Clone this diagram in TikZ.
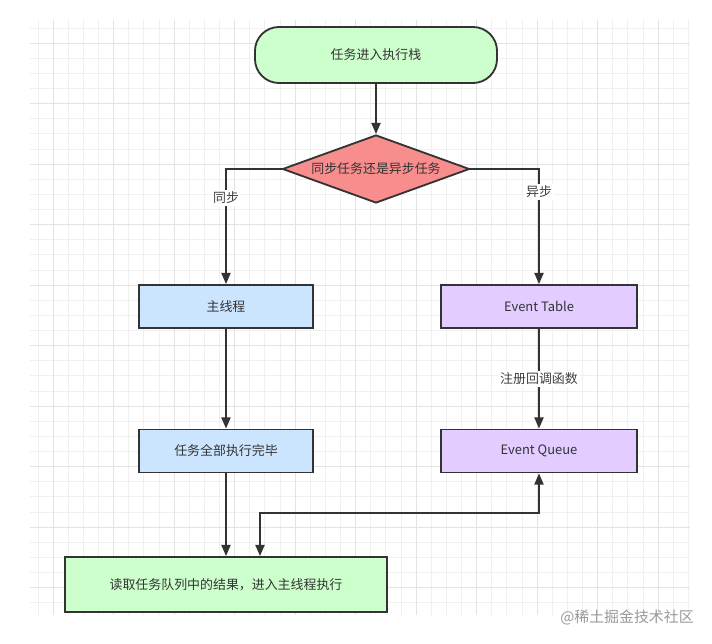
\documentclass[tikz,border=0pt]{standalone}
\usepackage{fontspec}
\setmainfont{Noto Sans CJK SC}
\usepackage{tikz}
\usetikzlibrary{shapes.geometric,arrows.meta}
\definecolor{linegray}{HTML}{333333}
\definecolor{textgray}{HTML}{333333}
\definecolor{taggray}{HTML}{404040}
\definecolor{termgreen}{HTML}{CCFFCC}
\definecolor{choicered}{HTML}{F88D8D}
\definecolor{syncblue}{HTML}{CCE5FF}
\definecolor{asyncpurple}{HTML}{E3CCFF}
\definecolor{gridminor}{HTML}{F0F0F0}
\definecolor{gridmajor}{HTML}{E3E3E3}
\definecolor{wmgray}{HTML}{9A9A9A}

\begin{document}
\begin{tikzpicture}[x=0.025cm, y=-0.025cm, line width=1.3pt, color=linegray,
  >={Triangle[length=8pt, width=6.5pt]},
  main/.style = {draw, text=textgray, inner sep=0pt, font=\fontsize{9.2pt}{11pt}\selectfont},
  term/.style = {main, fill=termgreen, rounded corners=0.6cm, minimum width=6.05cm, minimum height=1.4cm},
  choice/.style = {main, diamond, aspect=2.75, fill=choicered, minimum width=4.675cm, minimum height=1.7cm},
  sync/.style = {main, fill=syncblue, minimum width=4.35cm, minimum height=1.075cm},
  async/.style = {main, fill=asyncpurple, minimum width=4.9cm, minimum height=1.075cm},
  result/.style = {main, fill=termgreen, minimum width=8.05cm, minimum height=1.375cm},
  tag/.style = {fill=white, text=taggray, inner sep=1.5pt, font=\fontsize{9.2pt}{11pt}\selectfont},
  wmark/.style = {text=wmgray, inner sep=0pt, font=\fontsize{10.6pt}{12pt}\selectfont},
  minor/.style = {draw=gridminor, line width=0.5pt},
  major/.style = {draw=gridmajor, line width=0.7pt}]
  \path[use as bounding box, fill=white] (0,0) rectangle (712,644);
  % paper grid
  \foreach \k in {0,...,38} \draw[minor] (30,{27.875+15.125*\k}) -- (690,{27.875+15.125*\k});
  \foreach \k in {0,...,43} \draw[minor] ({37.875+15.125*\k},20) -- ({37.875+15.125*\k},615);
  \foreach \k in {0,...,9} \draw[major] (30,{43+60.5*\k}) -- (690,{43+60.5*\k});
  \foreach \k in {0,...,10} \draw[major] ({53+60.5*\k},20) -- ({53+60.5*\k},615);

  \node[term] (1) at (376,55) {任务进入执行栈};
  \node[choice] (2) at (376,169) {同步任务还是异步任务};
  \node[sync] (3) at (226,306.5) {主线程};
  \node[async] (4) at (539,306.5) {Event Table};
  \node[sync] (5) at (226,451) {任务全部执行完毕};
  \node[async] (6) at (539,451) {Event Queue};
  \node[result] (7) at (226,584.5) {读取任务队列中的结果，进入主线程执行};
  \coordinate (8) at (260,513);
  \node[wmark] (9) at (627,617) {@稀土掘金技术社区};

  \draw[->] (1) -- (2);
  \draw[->] (2.west) -| node[tag, pos=0.625] {同步} (3.north);
  \draw[->] (2.east) -| node[tag, pos=0.6] {异步} (4.north);
  \draw[->] (3) -- (5);
  \draw[->] (4) -- node[tag] {注册回调函数} (6);
  \draw[->] (5) -- (7);
  \draw[<->] (6.south) |- (8) -- (8 |- 7.north);
\end{tikzpicture}
\end{document}
